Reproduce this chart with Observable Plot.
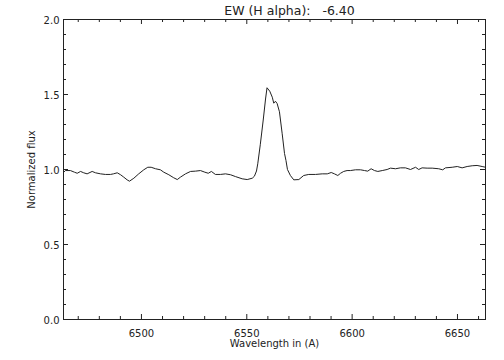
<!DOCTYPE html>
<html><head><meta charset="utf-8">
<script src="https://cdn.jsdelivr.net/npm/d3@7"></script>
<script src="https://cdn.jsdelivr.net/npm/@observablehq/plot@0.6"></script>
<style>body{margin:0;background:#fff}</style>
</head><body><div id="chart"></div>
<script>
const wavelength = [6463.0,6463.9,6466.3,6468.2,6469.5,6471.1,6472.6,6474.2,6476.6,6478.2,6480.6,6482.9,6485.3,6486.7,6488.5,6490.1,6491.6,6493.2,6494.3,6496.4,6498.7,6501.1,6503.0,6504.6,6506.7,6509.0,6510.6,6513.0,6515.3,6517.0,6518.5,6520.9,6523.3,6525.6,6528.0,6530.1,6531.7,6533.2,6535.1,6537.5,6539.9,6542.3,6544.6,6547.8,6550.2,6552.6,6553.6,6554.6,6555.2,6556.4,6557.8,6558.9,6559.6,6560.9,6562.1,6562.8,6563.6,6564.4,6565.5,6566.8,6567.9,6568.6,6569.3,6570.7,6572.3,6574.7,6577.0,6579.4,6582.6,6585.8,6588.2,6590.1,6591.6,6593.2,6594.5,6596.0,6597.6,6599.2,6601.6,6604.0,6605.9,6607.4,6609.0,6610.6,6612.2,6614.3,6616.6,6618.2,6620.6,6622.9,6625.3,6627.7,6630.1,6631.6,6633.2,6635.6,6638.0,6641.1,6643.0,6644.3,6647.5,6649.9,6652.2,6654.6,6657.0,6659.3,6661.7,6663.3];
const flux = [0.980,0.993,0.993,0.982,0.975,0.987,0.978,0.971,0.987,0.978,0.971,0.967,0.967,0.971,0.978,0.965,0.949,0.931,0.922,0.942,0.971,0.998,1.015,1.015,1.005,0.998,0.982,0.965,0.945,0.933,0.949,0.971,0.987,0.989,0.993,0.982,0.975,0.987,0.967,0.967,0.971,0.965,0.953,0.938,0.933,0.942,0.955,0.990,1.038,1.165,1.330,1.470,1.545,1.522,1.482,1.442,1.455,1.440,1.385,1.238,1.107,1.060,1.000,0.960,0.931,0.933,0.960,0.967,0.967,0.971,0.971,0.980,0.971,0.960,0.975,0.987,0.993,0.993,0.998,0.998,0.993,0.989,1.005,0.993,0.987,0.993,1.000,1.009,1.005,1.011,1.011,1.000,1.015,1.000,1.011,1.009,1.009,1.005,0.998,1.011,1.015,1.020,1.011,1.020,1.025,1.027,1.020,1.015];
const xMajorTicks = [6500, 6550, 6600, 6650];
const xMinorTicks = [6470,6480,6490,6510,6520,6530,6540,6560,6570,6580,6590,6610,6620,6630,6640,6660];
const yMajorTicks = [0, 0.5, 1.0, 1.5, 2.0];
const yMinorTicks = [0.1,0.2,0.3,0.4,0.6,0.7,0.8,0.9,1.1,1.2,1.3,1.4,1.6,1.7,1.8,1.9];
const titleText = "EW (H alpha):\u00a0\u00a0\u00a0-6.40";
const xLabel = "Wavelength in (A)";
const yLabel = "Normalized flux";

const data = wavelength.map((w, i) => ({w, f: flux[i]}));
const W = 504, H = 360, mL = 63, mR = 19, mT = 19, mB = 41;
const plotW = W - mL - mR, plotH = H - mT - mB;
const ink = "#222";

const chart = Plot.plot({
  width: W, height: H,
  marginLeft: mL, marginRight: mR, marginTop: mT, marginBottom: mB,
  x: {domain: [6463, 6663.3]},
  y: {domain: [0, 2]},
  style: {fontFamily: "DejaVu Sans", fontSize: "10px", color: ink, background: "#fff"},
  marks: [
    Plot.frame({stroke: ink, strokeWidth: 1}),
    Plot.tickX(xMajorTicks, {x: d => d, insetTop: plotH - 5, stroke: ink}),
    Plot.tickX(xMajorTicks, {x: d => d, insetBottom: plotH - 5, stroke: ink}),
    Plot.tickX(xMinorTicks, {x: d => d, insetTop: plotH - 3, stroke: ink}),
    Plot.tickX(xMinorTicks, {x: d => d, insetBottom: plotH - 3, stroke: ink}),
    Plot.tickY(yMajorTicks, {y: d => d, insetRight: plotW - 5, stroke: ink}),
    Plot.tickY(yMajorTicks, {y: d => d, insetLeft: plotW - 5, stroke: ink}),
    Plot.tickY(yMinorTicks, {y: d => d, insetRight: plotW - 3, stroke: ink}),
    Plot.tickY(yMinorTicks, {y: d => d, insetLeft: plotW - 3, stroke: ink}),
    Plot.axisX(xMajorTicks, {tickSize: 0, tickPadding: 10, label: null, tickFormat: d => String(d), fill: ink}),
    Plot.axisY(yMajorTicks, {tickSize: 0, tickPadding: 4, label: null, tickFormat: d3.format(".1f"), dy: 1.5, fill: ink}),
    Plot.line(data, {x: "w", y: "f", stroke: ink, strokeWidth: 1}),
    Plot.text([titleText], {text: d => d, frameAnchor: "top", lineAnchor: "middle", textAnchor: "middle", dy: -9, dx: 15, fontSize: 12.5, fill: ink}),
    Plot.text([xLabel], {text: d => d, frameAnchor: "bottom", lineAnchor: "middle", textAnchor: "middle", dy: 24, fill: ink}),
    Plot.text([yLabel], {text: d => d, frameAnchor: "left", lineAnchor: "middle", textAnchor: "middle", dx: -32, rotate: -90, fill: ink})
  ]
});
document.getElementById("chart").appendChild(chart);
</script>
</body></html>
